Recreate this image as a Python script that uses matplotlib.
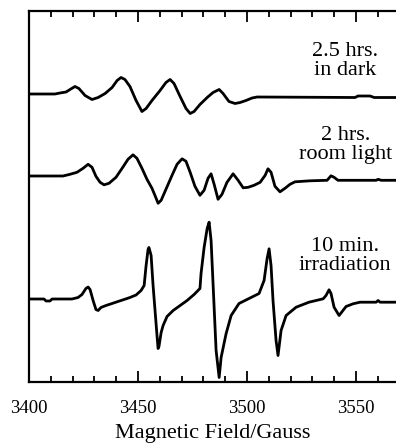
import numpy as np
import matplotlib.pyplot as plt
from matplotlib.ticker import MultipleLocator

plt.rcParams['font.family'] = ['Liberation Serif', 'DejaVu Serif']

# EPR spectra, field in Gauss, signal in arbitrary units (relative to each baseline)
dark_field = [3400, 3411.9, 3414.2, 3417.0, 3418.8, 3421.1, 3422.9, 3425.7, 3428.9, 3431.7,
              3434.9, 3438.1, 3440.4, 3442.2, 3444.0, 3446.3, 3449.1, 3451.8, 3453.7, 3456.4,
              3460.1, 3462.8, 3464.7, 3466.5, 3469.3, 3472.0, 3473.9, 3475.7, 3478.4, 3481.7,
              3484.4, 3487.2, 3489.0, 3491.7, 3494.5, 3496.8, 3499.5, 3502.3, 3504.6, 3549.5,
              3550.9, 3556.4, 3558.3, 3568.3]
dark_signal = [0, 0, 1, 2, 4.5, 7.5, 5.5, -1.5, -5.5, -3.5,
               0.5, 6.5, 13.5, 16.5, 14.5, 7.5, -6.5, -17.5, -14.5, -6.5,
               3.5, 11.5, 14.5, 10.5, -2.5, -14.5, -19.5, -17.5, -10.5, -3.5,
               1.5, 4.5, 0.5, -7.5, -9.5, -8.5, -6.5, -4, -3, -3.5,
               -2, -2, -3.5, -3.5]

room_field = [3400, 3415.6, 3418.8, 3422.0, 3424.8, 3427.1, 3428.9, 3430.7, 3432.6, 3434.4,
              3436.7, 3439.9, 3442.7, 3445.4, 3447.7, 3449.5, 3451.8, 3454.1, 3456.4, 3458.3,
              3459.2, 3460.6, 3462.8, 3465.6, 3467.9, 3470.2, 3472.0, 3473.9, 3476.1, 3478.4,
              3480.3, 3482.1, 3483.5, 3484.9, 3486.7, 3488.5, 3490.8, 3493.6, 3495.9, 3498.2,
              3500.5, 3503.2, 3506.0, 3508.3, 3509.6, 3511.0, 3512.8, 3515.1, 3517.4, 3519.7,
              3522.0, 3528.9, 3536.7, 3538.5, 3539.9, 3541.7, 3559.2, 3560.1, 3561.5, 3568.3]
room_signal = [0, 0, 1.7, 3.7, 7.7, 11.7, 8.7, -0.3, -6.3, -8.8,
               -7.3, -1.3, 7.7, 16.7, 21.2, 17.7, 7.7, -3.3, -12.3, -22.3,
               -27.3, -24.3, -13.3, 0.7, 11.7, 17.2, 14.7, 3.7, -10.3, -19.3,
               -14.3, -2.3, 2.2, -8.3, -23.3, -18.3, -6.3, 2.2, -4.3, -11.8,
               -11.3, -9.3, -6.3, 0.7, 7.2, 3.7, -10.3, -15.8, -12.3, -8.3,
               -5.8, -4.8, -4.3, 0.2, -1.3, -4.3, -4.3, -3.3, -4.3, -4.3]

irr_field = [3400, 3406.9, 3407.8, 3409.6, 3410.6, 3419.7, 3422.5, 3424.3, 3426.1, 3427.1,
             3428.0, 3429.4, 3430.7, 3431.7, 3433.0, 3435.3, 3438.1, 3440.8, 3443.6, 3446.3,
             3449.1, 3451.4, 3452.8, 3453.7, 3454.6, 3455.0, 3456.0, 3456.9, 3457.8, 3458.7,
             3459.2, 3459.6, 3460.6, 3461.5, 3463.3, 3466.1, 3469.3, 3472.5, 3475.7, 3478.4,
             3478.9, 3480.3, 3481.7, 3482.6, 3483.5, 3484.4, 3485.8, 3487.2, 3488.1, 3490.4,
             3492.7, 3496.3, 3500.9, 3505.5, 3507.8, 3509.2, 3510.1, 3511.0, 3511.9, 3513.3,
             3514.2, 3515.6, 3517.9, 3522.5, 3528.4, 3534.9, 3536.2, 3537.6, 3538.5, 3539.9,
             3542.2, 3545.4, 3548.6, 3551.8, 3559.2, 3560.1, 3561.0, 3568.3]
irr_signal = [0, 0, -2, -2, 0, 0, 1.5, 4.5, 10.5, 12,
              9.5, -1.5, -10.5, -11.5, -8.5, -6.5, -4.5, -2.5, -0.5, 1.5,
              4, 8.5, 13.5, 33.5, 49.5, 51.5, 43.5, 13.5, -11.5, -36.5,
              -49.5, -47.5, -33.5, -26.5, -17.5, -11.5, -6.5, -1.5, 4.5, 10.5,
              25.5, 51.5, 70.5, 76.8, 58.5, 15.5, -51.5, -78.5, -58.5, -34.5,
              -16.5, -4.5, 0.5, 5.5, 18.5, 40.5, 50.2, 33.5, -1.5, -41.5,
              -56.5, -31.5, -16.5, -8.2, -3.2, 0.2, 3.5, 9.2, 5.5, -8.2,
              -16.5, -7.5, -4.8, -3.2, -3.2, -1.5, -3.2, -3.2]

labels = ["2.5 hrs.\nin dark", "2 hrs.\nroom light", "10 min.\nirradiation"]
offsets = [288, 206, 83]
label_y = [321, 237, 126]

fig = plt.figure(figsize=(3.96, 4.43), dpi=100)
ax = fig.add_axes([29/396, 1 - 382/443, 1 - 29/396, 371/443])

series = [(dark_field, dark_signal), (room_field, room_signal), (irr_field, irr_signal)]
for (f, s), off, lab, ly in zip(series, offsets, labels, label_y):
    ax.plot(f, np.array(s) + off, color='black', lw=2.0, solid_joinstyle='round')
    ax.text(3545, ly, lab, ha='center', va='center', fontsize=16, linespacing=0.95)

ax.set_xlim(3400, 3568.3)
ax.set_ylim(0, 371)
ax.xaxis.set_major_locator(MultipleLocator(50))
ax.xaxis.set_minor_locator(MultipleLocator(10))
ax.tick_params(axis='x', which='both', direction='in', top=True, bottom=True,
               width=1.3, labelsize=13.5, pad=13)
ax.tick_params(axis='x', which='major', length=8)
ax.tick_params(axis='x', which='minor', length=4)
ax.set_yticks([])
ax.spines['right'].set_visible(False)
for sp in ['left', 'top', 'bottom']:
    ax.spines[sp].set_linewidth(1.6)
ax.set_xlabel('Magnetic Field/Gauss', fontsize=16, labelpad=5)

fig.savefig('out.png', dpi=100)
